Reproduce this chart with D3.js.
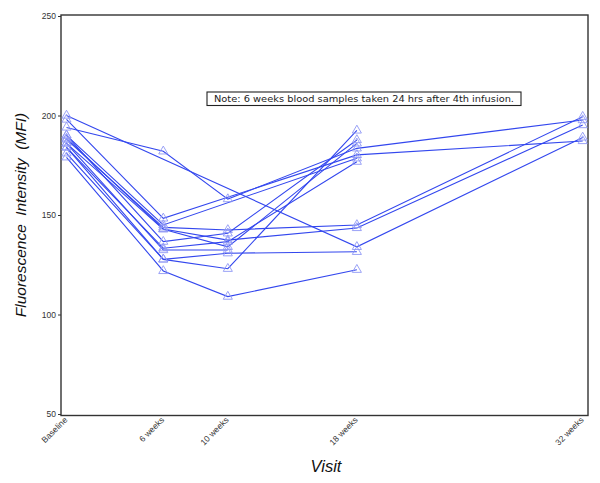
<!DOCTYPE html>
<html>
<head>
<meta charset="utf-8">
<script src="https://cdn.jsdelivr.net/npm/d3@7"></script>
<style>
  html, body { margin: 0; padding: 0; background: #fff; }
  svg { display: block; }
</style>
</head>
<body>
<svg id="chart" width="600" height="483"></svg>
<script>
// ---- data ----
const visits = [0, 6, 10, 18, 32];
const visitLabels = ["Baseline", "6 weeks", "10 weeks", "18 weeks", "32 weeks"];
const yTicks = [50, 100, 150, 200, 250];

// one array per subject: values at Baseline, 6, 10, 18, 32 weeks (null = missed visit)
const s1  = [200,   null,  null,  134,   189];
const s2  = [194,   182,   158,   183.5, 197.7];
const s3  = [198,   148.3, null,  180.2, 187.2];
const s4  = [190,   145,   null,  178.5, null];
const s5  = [188,   143.8, 142.5, 145,   199.4];
const s6  = [188.5, 143,   137.4, 143.5, 195.2];
const s7  = [186,   142.8, 134,   186,   null];
const s8  = [190,   136.6, 140.8, 187.7, null];
const s9  = [184,   133.3, 136.6, 176.8, null];
const s10 = [186,   132.4, 132.4, null,  null];
const s11 = [181,   127.7, 130.8, 131.5, null];
const s12 = [184,   127.7, 123,   192.5, null];
const s13 = [179,   121.9, 109,   122.5, null];
const subjects = [s1, s2, s3, s4, s5, s6, s7, s8, s9, s10, s11, s12, s13];

const noteText = "Note: 6 weeks blood samples taken 24 hrs after 4th infusion.";

// ---- layout ----
const svg = d3.select("#chart");
const frame = { left: 61, right: 588, top: 15, bottom: 415.5 };

const x = d3.scaleLinear().domain([0, 32]).range([66.5, 582.7]);
const y = d3.scaleLinear().domain([50, 250]).range([414, 16]);

const lineColor = "#3347ee";
const markColor = "#8f97f5";

// frame
svg.append("rect")
  .attr("x", frame.left).attr("y", frame.top)
  .attr("width", frame.right - frame.left)
  .attr("height", frame.bottom - frame.top)
  .attr("fill", "none").attr("stroke", "#333").attr("stroke-width", 1.4);

// y axis
const yAxis = d3.axisLeft(y).tickValues(yTicks).tickSize(3).tickPadding(2)
  .tickFormat(d3.format("d"));
const gy = svg.append("g").attr("transform", `translate(${frame.left},0)`).call(yAxis);
gy.select(".domain").remove();
gy.selectAll(".tick line").attr("stroke", "#333").attr("stroke-width", 1);
gy.selectAll(".tick text")
  .attr("font-family", "Liberation Sans, Arial, sans-serif")
  .attr("font-size", 8.5).attr("fill", "#333");

// x axis labels (rotated)
const xAxis = d3.axisBottom(x).tickValues(visits).tickSize(0).tickPadding(0)
  .tickFormat((d, i) => visitLabels[i]);
const gx = svg.append("g").attr("transform", `translate(0,${frame.bottom})`).call(xAxis);
gx.select(".domain").remove();
gx.selectAll(".tick text")
  .attr("font-family", "Liberation Sans, Arial, sans-serif")
  .attr("font-size", 8.5).attr("fill", "#333")
  .attr("text-anchor", "end")
  .attr("dy", null).attr("y", 0)
  .attr("transform", "translate(1,5) rotate(-45)");

// axis titles
svg.append("text")
  .attr("transform", "translate(26,215) rotate(-90)")
  .attr("text-anchor", "middle")
  .attr("font-family", "Liberation Sans, Arial, sans-serif")
  .attr("font-style", "italic").attr("font-size", 15.5)
  .attr("word-spacing", 4)
  .attr("fill", "#111")
  .text("Fluorescence Intensity (MFI)");

svg.append("text")
  .attr("x", 326).attr("y", 472)
  .attr("text-anchor", "middle")
  .attr("font-family", "Liberation Sans, Arial, sans-serif")
  .attr("font-style", "italic").attr("font-size", 16.5)
  .attr("fill", "#111")
  .text("Visit");

// lines
const line = d3.line()
  .x(d => x(d.w))
  .y(d => y(d.v));

const pts = subjects.map(s => s.map((v, i) => ({ w: visits[i], v })).filter(d => d.v !== null));

svg.append("g").selectAll("path.subj")
  .data(pts).join("path")
  .attr("class", "subj")
  .attr("d", line)
  .attr("fill", "none")
  .attr("stroke", lineColor)
  .attr("stroke-width", 1.1);

// markers (open triangles)
const tri = d3.symbol().type(d3.symbolTriangle).size(36);
svg.append("g").selectAll("path.mk")
  .data(pts.flat()).join("path")
  .attr("class", "mk")
  .attr("d", tri)
  .attr("transform", d => `translate(${x(d.w)},${y(d.v)})`)
  .attr("fill", "none")
  .attr("stroke", markColor)
  .attr("stroke-width", 0.9);

// note box
const noteG = svg.append("g");
noteG.append("rect")
  .attr("x", 207).attr("y", 92).attr("width", 314).attr("height", 13.5)
  .attr("fill", "#fff").attr("stroke", "#222").attr("stroke-width", 1.1);
noteG.append("text")
  .attr("x", 364).attr("y", 102.2)
  .attr("text-anchor", "middle")
  .attr("font-family", "DejaVu Sans, sans-serif")
  .attr("font-size", 9)
  .attr("textLength", 300).attr("lengthAdjust", "spacingAndGlyphs")
  .attr("fill", "#222")
  .text(noteText);
</script>
</body>
</html>
